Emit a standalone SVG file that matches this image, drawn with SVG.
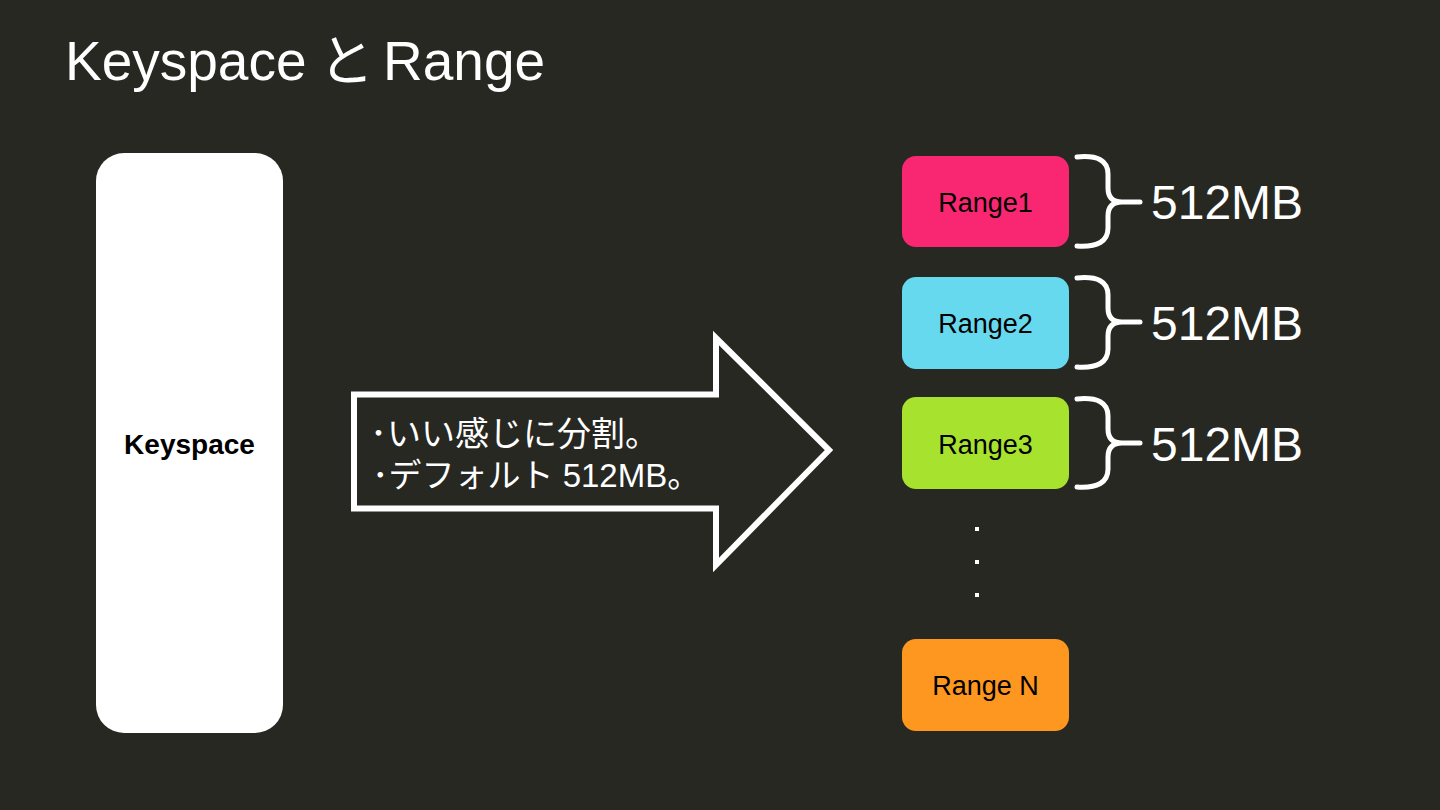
<svg xmlns="http://www.w3.org/2000/svg" width="1440" height="810" viewBox="0 0 1440 810">
<style>
.bg{fill:#272822}
.t{font-family:"Liberation Sans","Noto Sans CJK JP",sans-serif}
.w{fill:#ffffff}
.lbl{font-family:"Liberation Sans","Noto Sans CJK JP",sans-serif;font-size:27px;fill:#000000;text-anchor:middle}
.mb{font-family:"Liberation Sans",sans-serif;font-size:48px;fill:#ffffff}
.brace{fill:none;stroke:#ffffff;stroke-width:5;stroke-linecap:round;stroke-linejoin:round}
</style>
<rect class="bg" x="0" y="0" width="1440" height="810"/>
<text class="t w" x="65" y="80" font-size="55">Keyspace<tspan x="319">と</tspan><tspan x="383">Range</tspan></text>
<g id="keyspace">
<rect x="96" y="153" width="187" height="580" rx="28" fill="#ffffff"/>
<text class="t" x="189.5" y="454" font-size="28" font-weight="bold" text-anchor="middle" fill="#000000">Keyspace</text>
</g>
<g id="connectors">
<path d="M354,394.5 L716,394.5 L716,338 L829,450 L716,565 L716,508.5 L354,508.5 Z" fill="none" stroke="#ffffff" stroke-width="6" stroke-linejoin="miter"/>
<text class="t w" x="370" y="446" font-size="34">･いい感じに分割。</text>
<text class="t w" x="372" y="487" font-size="33">･デフォルト 512MB。</text>
</g>
<g id="range1">
<rect x="902" y="156" width="167" height="91" rx="14" fill="#F92672"/>
<text class="lbl" x="985.5" y="212">Range1</text>
</g>
<g id="range2">
<rect x="902" y="277" width="167" height="92" rx="14" fill="#66D9EF"/>
<text class="lbl" x="985.5" y="333">Range2</text>
</g>
<g id="range3">
<rect x="902" y="397" width="167" height="92" rx="14" fill="#A6E22E"/>
<text class="lbl" x="985.5" y="454">Range3</text>
</g>
<g id="dots" fill="#ffffff">
<rect x="975" y="527" width="4" height="4"/>
<rect x="975" y="560" width="4" height="4"/>
<rect x="975" y="593" width="4" height="4"/>
</g>
<g id="rangeN">
<rect x="902" y="639" width="167" height="92" rx="14" fill="#FD971F"/>
<text class="lbl" x="985.5" y="695">Range N</text>
</g>
<g id="brace1">
<path class="brace" d="M1077,157 Q1108,154 1108,174 L1108,188 Q1108,202 1122,202 L1140,202 M1122,202 Q1108,202 1108,216 L1108,228 Q1108,248 1077,246"/>
<text class="mb" x="1151" y="219">512MB</text>
</g>
<g id="brace2">
<path class="brace" d="M1077,278 Q1108,275 1108,295 L1108,308 Q1108,322 1122,322 L1140,322 M1122,322 Q1108,322 1108,336 L1108,349 Q1108,369 1077,367"/>
<text class="mb" x="1151" y="340">512MB</text>
</g>
<g id="brace3">
<path class="brace" d="M1077,399 Q1108,396 1108,416 L1108,429 Q1108,443 1122,443 L1140,443 M1122,443 Q1108,443 1108,457 L1108,469 Q1108,489 1077,487"/>
<text class="mb" x="1151" y="461">512MB</text>
</g>
</svg>
